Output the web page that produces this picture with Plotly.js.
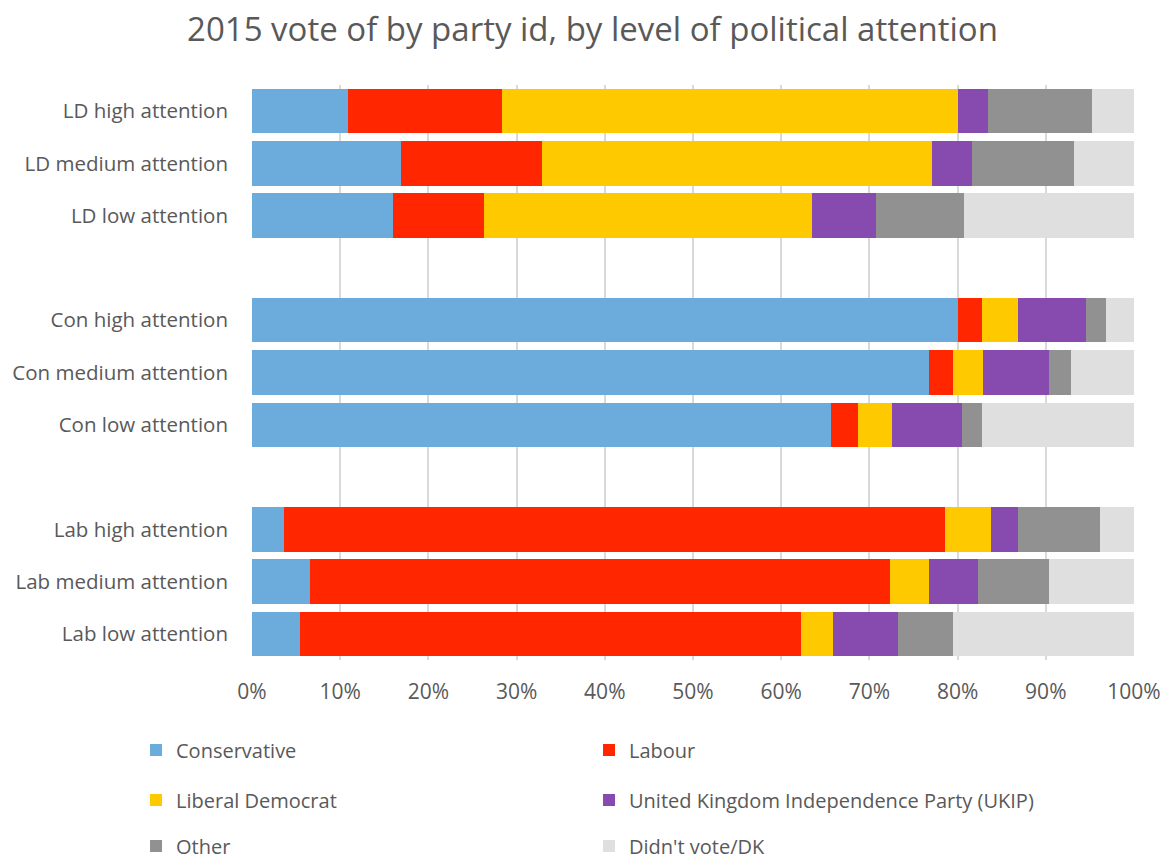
<!DOCTYPE html>
<html>
<head>
<meta charset="utf-8">
<script src="https://cdn.plot.ly/plotly-3.0.1.min.js"></script>
<style>html,body{margin:0;padding:0;background:#fff;}#chart{width:1164px;height:860px;}</style>
</head>
<body>
<div id="chart"></div>
<script>
// Categories, top to bottom; blank strings are the gaps between groups
const categories = [
  "LD high attention", "LD medium attention", "LD low attention", " ",
  "Con high attention", "Con medium attention", "Con low attention", "  ",
  "Lab high attention", "Lab medium attention", "Lab low attention"
];
const seriesNames = ["Conservative", "Labour", "Liberal Democrat",
  "United Kingdom Independence Party (UKIP)", "Other", "Didn't vote/DK"];
const seriesColors = ["#6cacdc", "#ff2600", "#ffc900", "#874bb0", "#919191", "#dfdfdf"];

// Values in percent, in category order (null = gap row)
const conservative = [10.9, 16.9, 16.0, null, 80.1, 76.8, 65.6, null, 3.6, 6.6, 5.4];
const labour       = [17.5, 16.0, 10.3, null,  2.7,  2.7,  3.1, null, 75.0, 65.7, 56.9];
const libDem       = [51.7, 44.2, 37.2, null,  4.0,  3.4,  3.9, null, 5.2, 4.5, 3.6];
const ukip         = [ 3.3,  4.5,  7.2, null,  7.8,  7.5,  7.9, null, 3.0, 5.5, 7.3];
const other        = [11.8, 11.6, 10.0, null,  2.2,  2.4,  2.3, null, 9.3, 8.1, 6.3];
const didntVote    = [ 4.8,  6.8, 19.3, null,  3.2,  7.2, 17.2, null, 3.9, 9.6, 20.5];

const xTickVals = [0, 10, 20, 30, 40, 50, 60, 70, 80, 90, 100];
const xTickText = ["0%", "10%", "20%", "30%", "40%", "50%", "60%", "70%", "80%", "90%", "100%"];

const allValues = [conservative, labour, libDem, ukip, other, didntVote];
const legendIds = ["legend", "legend", "legend2", "legend2", "legend3", "legend3"];

const FONT = "Open Sans, Noto Sans, sans-serif";
const TXT = "#595959";

const traces = allValues.map((vals, i) => ({
  type: "bar",
  orientation: "h",
  name: seriesNames[i],
  x: vals,
  y: categories,
  marker: {color: seriesColors[i], line: {width: 0}},
  legend: legendIds[i],
  hoverinfo: "name+x"
}));

const legendBase = {
  orientation: "h",
  xref: "paper", yref: "paper",
  x: -0.1315, xanchor: "left",
  yanchor: "middle",
  entrywidth: 408, entrywidthmode: "pixels",
  font: {family: FONT, size: 20, color: TXT},
  bgcolor: "rgba(0,0,0,0)",
  borderwidth: 0,
  traceorder: "normal"
};

const layout = {
  width: 1164, height: 860,
  paper_bgcolor: "#ffffff", plot_bgcolor: "#ffffff",
  margin: {l: 252, r: 30, t: 85, b: 200, autoexpand: false},
  title: {
    text: "2015 vote of by party id, by level of political attention",
    font: {family: FONT, size: 33, color: TXT},
    x: 0.509, xanchor: "center", xref: "container",
    y: 0.966, yanchor: "middle", yref: "container"
  },
  barmode: "stack",
  bargap: 0.15,
  xaxis: {
    range: [0, 100],
    tickvals: xTickVals, ticktext: xTickText,
    showgrid: true, gridcolor: "#d9d9d9", gridwidth: 2,
    zeroline: false, showline: false,
    ticks: "", ticklabelstandoff: 17,
    tickfont: {family: FONT, size: 21, color: TXT},
    fixedrange: true
  },
  yaxis: {
    type: "category",
    categoryorder: "array", categoryarray: categories,
    autorange: "reversed",
    showgrid: false, zeroline: false, showline: false,
    ticks: "", ticklabelstandoff: 23,
    tickfont: {family: FONT, size: 20.5, color: TXT},
    fixedrange: true
  },
  legend: Object.assign({}, legendBase, {y: -90 / 575}),
  legend2: Object.assign({}, legendBase, {y: -140 / 575}),
  legend3: Object.assign({}, legendBase, {y: -186 / 575}),
  showlegend: true
};

Plotly.newPlot("chart", traces, layout, {displayModeBar: false});
</script>
</body>
</html>
